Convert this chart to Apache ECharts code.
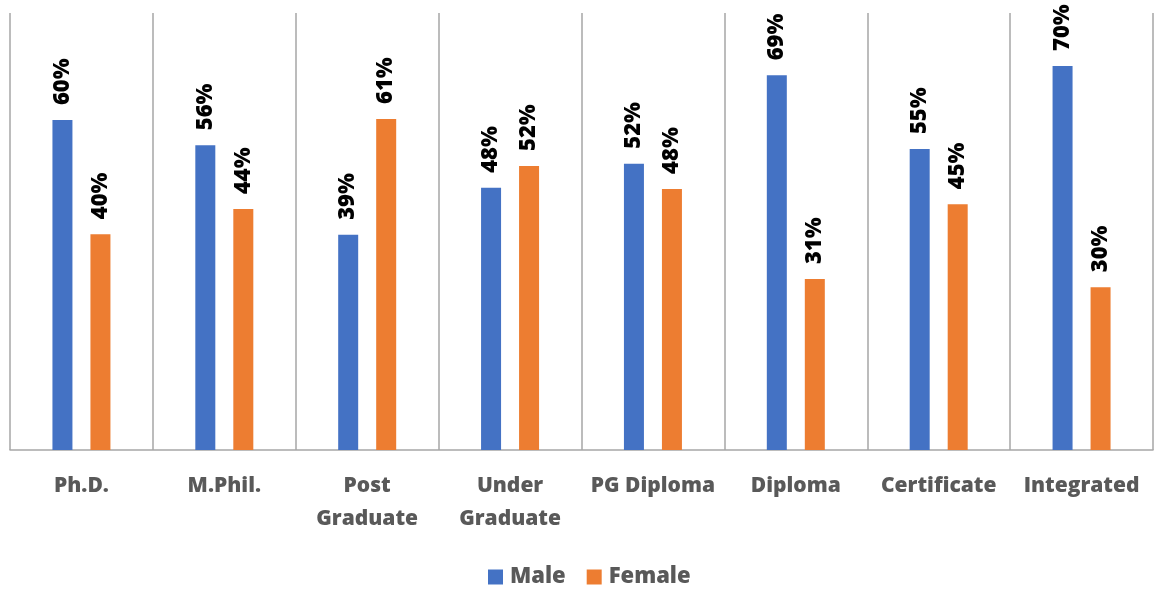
<!DOCTYPE html>
<html><head><meta charset="utf-8">
<script src="https://cdn.jsdelivr.net/npm/echarts@6/dist/echarts.min.js"></script>
<style>html,body{margin:0;padding:0;background:#fff}#c{width:1155px;height:589px}</style>
</head><body><div id="c"></div>
<script>
const categories = ['Ph.D.', 'M.Phil.', 'Post\nGraduate', 'Under\nGraduate', 'PG Diploma', 'Diploma', 'Certificate', 'Integrated'];
const maleValues = [60.4, 55.8, 39.4, 48.0, 52.4, 68.6, 55.1, 70.3];
const femaleValues = [39.5, 44.1, 60.6, 52.0, 47.8, 31.3, 45.0, 29.8];
const seriesNames = ['Male', 'Female'];

const FONT = '"Open Sans", Lato, sans-serif';
const chart = echarts.init(document.getElementById('c'));
const lbl = {
  show: true, position: 'top', rotate: 90, align: 'left', verticalAlign: 'middle',
  distance: 15, formatter: p => Math.round(p.value) + '%', color: '#000', fontWeight: 800,
  fontSize: 22, fontFamily: FONT
};
chart.setOption({
  animation: false,
  grid: { left: 10, right: 2, top: 13, bottom: 139 },
  legend: {
    top: 561, left: 483, itemWidth: 15, itemHeight: 15, itemGap: 21,
    icon: 'rect',
    textStyle: { fontSize: 22, fontWeight: 800, color: '#595959', fontFamily: FONT, padding: [0, 0, 0, 2] }
  },
  xAxis: {
    type: 'category', data: categories,
    axisLine: { lineStyle: { color: '#a6a6a6', width: 1.5 } },
    axisTick: { show: false },
    splitLine: { show: true, lineStyle: { color: '#a6a6a6', width: 1.5 } },
    axisLabel: { interval: 0, margin: 20, fontSize: 21, fontWeight: 800, color: '#595959',
      lineHeight: 33, fontFamily: FONT }
  },
  yAxis: { type: 'value', min: 0, max: 80, show: false, splitLine: { show: false } },
  series: [
    { name: seriesNames[0], type: 'bar', data: maleValues, itemStyle: { color: '#4472C4' },
      barWidth: 20, barGap: '90%', label: lbl },
    { name: seriesNames[1], type: 'bar', data: femaleValues, itemStyle: { color: '#ED7D31' },
      barWidth: 20, label: lbl }
  ]
});
</script></body></html>
